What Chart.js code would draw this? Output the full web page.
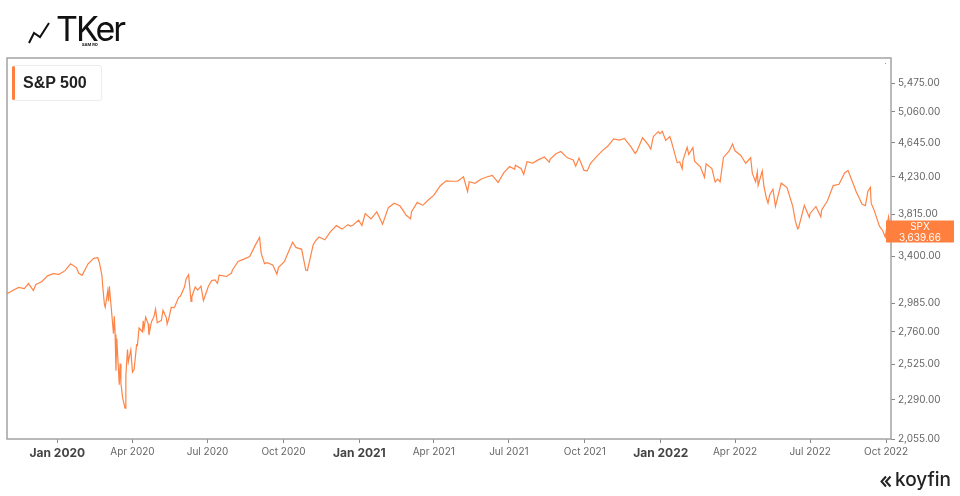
<!DOCTYPE html>
<html lang="en">

<head>
    <meta charset="UTF-8">
    <title>S&amp;P 500</title>
    <script src="https://cdn.jsdelivr.net/npm/chart.js"></script>
    <style>
        body { margin: 0; background: #fff; }
        #wrap { position: relative; width: 960px; height: 496px; overflow: hidden; font-family: Inter, "Liberation Sans", sans-serif; }
        #myChart { position: absolute; left: 0; top: 0; }
        .logo-text { position: absolute; left: 56px; top: 12px; font-size: 34px; line-height: 34px; color: #111; letter-spacing: -2px; }
        .logo-sub { position: absolute; left: 82px; top: 43px; font-size: 4px; line-height: 4px; font-weight: 700; color: #111; }
        .legend { position: absolute; left: 12px; top: 65px; width: 88px; height: 34px; border: 1px solid #ececec; border-radius: 3px; background: #fff; }
        .legend .bar { position: absolute; left: -1px; top: 0; width: 3px; height: 34px; border-radius: 2px; background: #ff7f3f; }
        .legend .name { position: absolute; left: 10px; top: 8px; font: bold 16px "Liberation Sans", Arial, sans-serif; line-height: 18px; color: #222; }
        .koyfin { position: absolute; left: 895px; top: 469px; font-size: 19px; line-height: 21px; font-weight: 500; color: #222; }
    </style>
</head>

<body>
    <div id="wrap">
        <canvas id="myChart" width="960" height="496"></canvas>
        <svg style="position:absolute;left:0;top:0" width="60" height="50">
            <polyline points="29,43 34,33 40,37 49,23" fill="none" stroke="#111" stroke-width="2" stroke-linejoin="miter" />
        </svg>
        <div class="logo-text">TKer</div>
        <div class="logo-sub">SAM RO</div>
        <div class="legend"><div class="bar"></div><div class="name">S&amp;P 500</div></div>
        <svg style="position:absolute;left:880px;top:475px" width="12" height="14">
            <polyline points="6,1.5 1.5,6.5 6,11.5" fill="none" stroke="#222" stroke-width="2" />
            <polyline points="10.5,1.5 6,6.5 10.5,11.5" fill="none" stroke="#222" stroke-width="2" />
        </svg>
        <div class="koyfin">koyfin</div>
    </div>
    <script>
        // 차트 데이터 (S&P 500 종가, 그림에서 읽은 값) - 월별로 한 줄씩
        const dates = [
            '2019-11-01', '2019-11-08', '2019-11-15', '2019-11-22', '2019-11-27',
            '2019-12-03', '2019-12-06', '2019-12-13', '2019-12-20', '2019-12-27',
            '2020-01-03', '2020-01-10', '2020-01-17', '2020-01-24', '2020-01-27', '2020-01-31',
            '2020-02-07', '2020-02-14', '2020-02-19', '2020-02-21', '2020-02-24', '2020-02-25', '2020-02-27', '2020-02-28',
            '2020-03-02', '2020-03-03', '2020-03-04', '2020-03-06', '2020-03-09', '2020-03-10', '2020-03-11', '2020-03-12', '2020-03-13', '2020-03-16',
            '2020-03-17', '2020-03-18', '2020-03-20', '2020-03-23', '2020-03-24', '2020-03-26', '2020-03-27', '2020-03-30',
            '2020-04-01', '2020-04-03', '2020-04-06', '2020-04-07', '2020-04-09', '2020-04-13', '2020-04-14', '2020-04-15', '2020-04-17', '2020-04-20', '2020-04-21', '2020-04-24', '2020-04-27', '2020-04-29',
            '2020-05-01', '2020-05-04', '2020-05-06', '2020-05-08', '2020-05-12', '2020-05-13', '2020-05-15', '2020-05-18', '2020-05-21', '2020-05-22', '2020-05-27', '2020-05-29',
            '2020-06-03', '2020-06-05', '2020-06-08', '2020-06-11', '2020-06-12', '2020-06-16', '2020-06-19', '2020-06-23', '2020-06-26',
            '2020-07-02', '2020-07-06', '2020-07-10', '2020-07-13', '2020-07-15', '2020-07-17', '2020-07-24', '2020-07-30', '2020-07-31',
            '2020-08-07', '2020-08-14', '2020-08-21', '2020-08-28',
            '2020-09-02', '2020-09-04', '2020-09-08', '2020-09-11', '2020-09-18', '2020-09-23', '2020-09-25',
            '2020-10-02', '2020-10-09', '2020-10-12', '2020-10-16', '2020-10-23', '2020-10-28', '2020-10-30',
            '2020-11-06', '2020-11-09', '2020-11-13', '2020-11-20', '2020-11-27',
            '2020-12-04', '2020-12-11', '2020-12-18', '2020-12-21', '2020-12-24', '2020-12-31',
            '2021-01-04', '2021-01-08', '2021-01-15', '2021-01-22', '2021-01-27', '2021-01-29',
            '2021-02-05', '2021-02-12', '2021-02-19', '2021-02-25', '2021-02-26',
            '2021-03-04', '2021-03-05', '2021-03-12', '2021-03-18', '2021-03-19', '2021-03-26',
            '2021-04-01', '2021-04-09', '2021-04-16', '2021-04-23', '2021-04-30',
            '2021-05-07', '2021-05-12', '2021-05-14', '2021-05-21', '2021-05-28',
            '2021-06-04', '2021-06-11', '2021-06-18', '2021-06-25',
            '2021-07-02', '2021-07-08', '2021-07-09', '2021-07-16', '2021-07-19', '2021-07-23', '2021-07-30',
            '2021-08-06', '2021-08-13', '2021-08-19', '2021-08-20', '2021-08-27',
            '2021-09-02', '2021-09-10', '2021-09-17', '2021-09-20', '2021-09-24', '2021-09-30',
            '2021-10-04', '2021-10-08', '2021-10-15', '2021-10-22', '2021-10-29',
            '2021-11-05', '2021-11-12', '2021-11-18', '2021-11-26',
            '2021-12-01', '2021-12-03', '2021-12-10', '2021-12-17', '2021-12-20', '2021-12-23', '2021-12-29', '2021-12-31',
            '2022-01-03', '2022-01-07', '2022-01-12', '2022-01-14', '2022-01-21', '2022-01-24', '2022-01-27', '2022-01-28',
            '2022-02-02', '2022-02-04', '2022-02-09', '2022-02-11', '2022-02-18', '2022-02-23', '2022-02-25',
            '2022-03-04', '2022-03-08', '2022-03-11', '2022-03-14', '2022-03-18', '2022-03-25', '2022-03-29',
            '2022-04-01', '2022-04-08', '2022-04-14', '2022-04-20', '2022-04-22', '2022-04-26', '2022-04-28', '2022-04-29',
            '2022-05-04', '2022-05-06', '2022-05-09', '2022-05-11', '2022-05-13', '2022-05-17', '2022-05-20', '2022-05-27',
            '2022-06-03', '2022-06-10', '2022-06-13', '2022-06-16', '2022-06-17', '2022-06-24', '2022-06-30',
            '2022-07-01', '2022-07-08', '2022-07-14', '2022-07-15', '2022-07-22', '2022-07-29',
            '2022-08-05', '2022-08-12', '2022-08-16', '2022-08-19', '2022-08-26',
            '2022-09-02', '2022-09-06', '2022-09-09', '2022-09-12', '2022-09-13', '2022-09-16', '2022-09-23', '2022-09-27', '2022-09-30',
            '2022-10-04', '2022-10-07'
        ];
        const closes = [
            3066.91, 3093.08, 3120.46, 3110.29, 3153.63,
            3093.20, 3145.91, 3168.80, 3221.22, 3240.02,
            3234.85, 3265.35, 3329.62, 3295.47, 3243.63, 3225.52,
            3327.71, 3380.16, 3386.15, 3337.75, 3225.89, 3128.21, 2978.76, 2954.22,
            3090.23, 3003.37, 3130.12, 2972.37, 2746.56, 2882.23, 2741.38, 2480.64, 2711.02, 2386.13,
            2529.19, 2398.10, 2304.92, 2237.40, 2447.33, 2630.07, 2541.47, 2626.65,
            2470.50, 2488.65, 2663.68, 2659.41, 2789.82, 2761.63, 2846.06, 2783.36, 2874.56, 2823.16, 2736.56, 2836.74, 2878.48, 2939.51,
            2830.71, 2842.74, 2848.42, 2929.80, 2870.12, 2820.00, 2863.70, 2953.91, 2948.51, 2955.45, 3036.13, 3044.31,
            3122.87, 3193.93, 3232.39, 3002.10, 3041.31, 3124.74, 3097.74, 3131.29, 3009.05,
            3130.01, 3179.72, 3185.04, 3155.22, 3226.56, 3224.73, 3215.63, 3246.22, 3271.12,
            3351.28, 3372.85, 3397.16, 3508.01,
            3580.84, 3426.96, 3331.84, 3340.97, 3319.47, 3236.92, 3298.46,
            3348.44, 3477.13, 3534.22, 3483.81, 3465.39, 3271.03, 3269.96,
            3509.44, 3550.50, 3585.15, 3557.54, 3638.35,
            3699.12, 3663.46, 3709.41, 3694.92, 3703.06, 3756.07,
            3700.65, 3824.68, 3768.25, 3841.47, 3750.77, 3714.24,
            3886.83, 3934.83, 3906.71, 3829.34, 3811.15,
            3768.47, 3841.94, 3943.34, 3915.46, 3913.10, 3974.54,
            4019.87, 4128.80, 4185.47, 4180.17, 4181.17,
            4232.60, 4063.04, 4173.85, 4155.86, 4204.11,
            4229.89, 4247.44, 4166.45, 4280.70,
            4352.34, 4320.82, 4369.55, 4327.16, 4258.49, 4411.79, 4395.26,
            4436.52, 4468.00, 4405.80, 4441.67, 4509.37,
            4536.95, 4458.58, 4432.99, 4357.73, 4455.48, 4307.54,
            4300.46, 4391.34, 4471.37, 4544.90, 4605.38,
            4697.53, 4682.85, 4704.54, 4594.62,
            4513.04, 4538.43, 4712.02, 4620.64, 4568.02, 4725.79, 4793.06, 4766.18,
            4796.56, 4677.03, 4726.35, 4662.85, 4397.94, 4410.13, 4326.51, 4431.85,
            4589.38, 4500.53, 4587.18, 4418.64, 4348.87, 4225.50, 4384.65,
            4328.87, 4170.70, 4204.31, 4173.11, 4463.12, 4543.06, 4631.60,
            4545.86, 4488.28, 4392.59, 4459.45, 4271.78, 4175.20, 4287.50, 4131.93,
            4300.17, 4123.34, 3991.24, 3935.18, 4023.89, 4088.85, 3901.36, 4158.24,
            4108.54, 3900.86, 3749.63, 3666.77, 3674.84, 3911.74, 3785.38,
            3825.33, 3899.38, 3790.38, 3863.16, 3961.63, 4130.29,
            4145.19, 4280.15, 4305.20, 4228.48, 4057.66,
            3924.26, 3908.19, 4067.36, 4110.41, 3932.69, 3873.33, 3693.23, 3647.29, 3585.62,
            3790.93, 3639.66
        ];
        // 축 눈금
        const xTickDates = ['2020-01-01', '2020-04-01', '2020-07-01', '2020-10-01', '2021-01-01', '2021-04-01', '2021-07-01', '2021-10-01', '2022-01-01', '2022-04-01', '2022-07-01', '2022-10-01'];
        const xTickLabels = ['Jan 2020', 'Apr 2020', 'Jul 2020', 'Oct 2020', 'Jan 2021', 'Apr 2021', 'Jul 2021', 'Oct 2021', 'Jan 2022', 'Apr 2022', 'Jul 2022', 'Oct 2022'];
        const yTicks = [2055, 2290, 2525, 2760, 2985, 3400, 3815, 4230, 4645, 5060, 5475];
        const seriesName = 'SPX';

        // 날짜 문자열 -> 일 수 (UTC 기준)
        function dayNum(s) {
            const p = s.split('-').map(Number);
            return Date.UTC(p[0], p[1] - 1, p[2]) / 86400000;
        }

        const points = dates.map((d, i) => ({ x: dayNum(d), y: closes[i] }));
        const xTickValues = xTickDates.map(dayNum);
        const lineColor = '#ff8447';

        function isJan(c) {
            return c.tick && xTickLabels[xTickValues.indexOf(c.tick.value)].startsWith('Jan');
        }

        const frame = {
            id: 'frame',
            afterDatasetsDraw(chart) {
                const { ctx, chartArea: a, scales } = chart;
                ctx.save();
                ctx.strokeStyle = '#a3a3a3';
                ctx.lineWidth = 1.5;
                ctx.strokeRect(a.left, a.top, a.right - a.left, a.bottom - a.top);
                ctx.fillStyle = '#999';
                ctx.fillRect(a.right - 6, a.top + 5, 1, 1);

                // 마지막 값 태그
                const last = closes[closes.length - 1];
                const y = scales.y.getPixelForValue(last);
                ctx.fillStyle = '#ff7f3f';
                ctx.fillRect(a.right - 5, y - 11, 68, 22);
                ctx.fillStyle = '#fff';
                ctx.font = '10px Inter, sans-serif';
                ctx.textAlign = 'center';
                ctx.textBaseline = 'middle';
                const cx = a.right + 29;
                ctx.fillText(seriesName, cx, y - 5);
                ctx.fillText(last.toLocaleString('en-US', { minimumFractionDigits: 2 }), cx, y + 6);
                ctx.restore();
            }
        };

        const ctx = document.getElementById('myChart').getContext('2d');
        new Chart(ctx, {
            type: 'line',
            data: {
                datasets: [{
                    label: 'S&P 500',
                    data: points,
                    borderColor: lineColor,
                    borderWidth: 1.2,
                    pointRadius: 0,
                    tension: 0,
                    fill: false
                }]
            },
            options: {
                responsive: false,
                animation: false,
                layout: { padding: { left: 7, top: 58, right: 0, bottom: 0 } },
                plugins: { legend: { display: false }, tooltip: { enabled: false } },
                scales: {
                    x: {
                        type: 'linear',
                        min: dayNum('2019-11-01'),
                        max: dayNum('2022-10-07'),
                        afterBuildTicks: s => { s.ticks = xTickValues.map(v => ({ value: v })); },
                        afterFit: s => { s.height = 57; },
                        grid: { drawOnChartArea: false, drawTicks: true, tickLength: 4, color: '#888' },
                        border: { display: false },
                        ticks: {
                            autoSkip: false,
                            maxRotation: 0,
                            padding: 3,
                            callback: v => xTickLabels[xTickValues.indexOf(v)],
                            color: c => isJan(c) ? '#444' : '#666',
                            font: c => isJan(c)
                                ? { family: 'Inter, sans-serif', size: 12, weight: 'bold' }
                                : { family: 'Inter, sans-serif', size: 10 }
                        }
                    },
                    y: {
                        type: 'logarithmic',
                        position: 'right',
                        min: 2055,
                        max: 5870,
                        afterBuildTicks: s => { s.ticks = yTicks.map(v => ({ value: v })); },
                        afterFit: s => { s.width = 69; },
                        grid: { drawOnChartArea: false, drawTicks: true, tickLength: 4, color: '#888' },
                        border: { display: false },
                        ticks: {
                            padding: 3,
                            color: '#666',
                            font: { family: 'Inter, sans-serif', size: 10 },
                            callback: v => Number(v).toLocaleString('en-US', { minimumFractionDigits: 2, maximumFractionDigits: 2 })
                        }
                    }
                }
            },
            plugins: [frame]
        });
    </script>
</body>

</html>
